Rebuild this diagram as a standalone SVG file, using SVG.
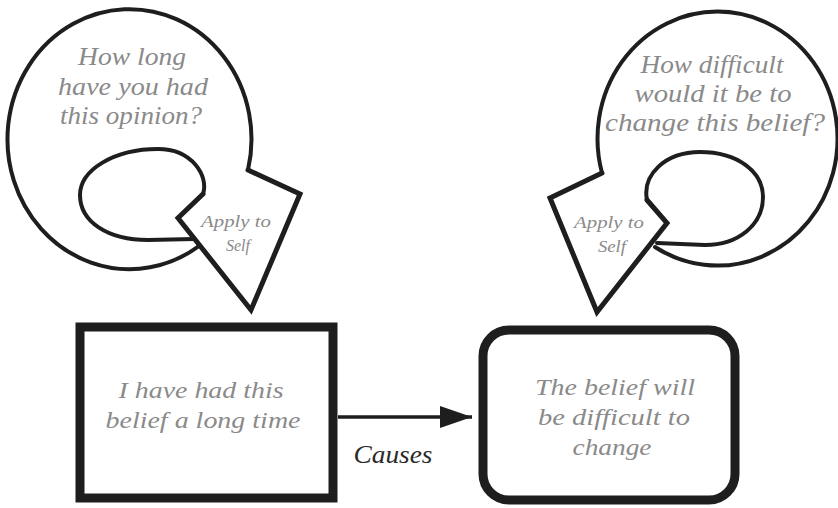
<svg xmlns="http://www.w3.org/2000/svg" width="838" height="508" viewBox="0 0 838 508">
<style>
.ln{fill:none;stroke:#1e1e1e;stroke-linejoin:round;stroke-linecap:round}
.bub{stroke-width:4}
.tip{stroke-width:5;stroke-linejoin:miter}
.box{fill:#fff;stroke:#1e1e1e;stroke-width:9}
.q{font-family:"Liberation Serif","Times New Roman",serif;font-style:italic;font-size:25px;fill:#8a8a8a;text-anchor:middle}
.bt{font-family:"Liberation Serif","Times New Roman",serif;font-style:italic;font-size:24px;fill:#8a8a8a;text-anchor:middle}
.ap{font-family:"Liberation Serif","Times New Roman",serif;font-style:italic;font-size:17px;fill:#8a8a8a;text-anchor:middle}
.cz{font-family:"Liberation Serif","Times New Roman",serif;font-style:italic;font-size:26px;fill:#2a2a2a;text-anchor:middle}
</style>
<defs>
<marker id="ah" viewBox="0 0 32 22" refX="32" refY="11" markerWidth="32" markerHeight="22" markerUnits="userSpaceOnUse" orient="auto">
<path d="M0,0 L32,11 L0,22 Z" fill="#1e1e1e"/>
</marker>
</defs>
<rect width="838" height="508" fill="#fff"/>

<g id="bubble-left">
<path class="ln bub" d="M248,170 A122 130 0 1 0 199,246"/>
<path class="ln bub" d="M203,194 C209,176 192,149 158,149 C114,149 80,170 80,195 C80,222 108,240 148,240 L194,239"/>
<path class="ln tip" d="M248,170 L300,194 L251,310 L178,218 L203,194"/>
<text class="q" x="132" y="65" textLength="108" lengthAdjust="spacingAndGlyphs">How long</text>
<text class="q" x="133" y="95" textLength="150" lengthAdjust="spacingAndGlyphs">have you had</text>
<text class="q" x="131" y="124" textLength="142" lengthAdjust="spacingAndGlyphs">this opinion?</text>
<text class="ap" x="236" y="227" textLength="70" lengthAdjust="spacingAndGlyphs">Apply to</text>
<text class="ap" x="238" y="251" textLength="24" lengthAdjust="spacingAndGlyphs">Self</text>
</g>

<g id="bubble-right">
<path class="ln bub" d="M602,173 A120 127 0 1 1 655,247"/>
<path class="ln bub" d="M647,200 C642,175 665,152 700,152 C738,152 763,172 763,197 C763,225 738,245 705,245 L657,243"/>
<path class="ln tip" d="M602,173 L550,198 L597,312 L667,223 L647,200"/>
<text class="q" x="712" y="73" textLength="143" lengthAdjust="spacingAndGlyphs">How difficult</text>
<text class="q" x="713" y="102" textLength="157" lengthAdjust="spacingAndGlyphs">would it be to</text>
<text class="q" x="715" y="131" textLength="220" lengthAdjust="spacingAndGlyphs">change this belief?</text>
<text class="ap" x="609" y="228" textLength="70" lengthAdjust="spacingAndGlyphs">Apply to</text>
<text class="ap" x="612" y="252" textLength="28" lengthAdjust="spacingAndGlyphs">Self</text>
</g>

<g id="box-left">
<rect class="box" x="80" y="327" width="253" height="171"/>
<text class="bt" x="201" y="398" textLength="165" lengthAdjust="spacingAndGlyphs">I have had this</text>
<text class="bt" x="203" y="428" textLength="195" lengthAdjust="spacingAndGlyphs">belief a long time</text>
</g>

<g id="box-right">
<rect class="box" x="483" y="330" width="252" height="170" rx="26"/>
<text class="bt" x="615" y="395" textLength="160" lengthAdjust="spacingAndGlyphs">The belief will</text>
<text class="bt" x="614" y="425" textLength="152" lengthAdjust="spacingAndGlyphs">be difficult to</text>
<text class="bt" x="612" y="455" textLength="79" lengthAdjust="spacingAndGlyphs">change</text>
</g>

<g id="connectors">
<line x1="338" y1="417" x2="472" y2="417" stroke="#1e1e1e" stroke-width="3.5" marker-end="url(#ah)"/>
<text class="cz" x="393" y="463" textLength="79" lengthAdjust="spacingAndGlyphs">Causes</text>
</g>
</svg>
